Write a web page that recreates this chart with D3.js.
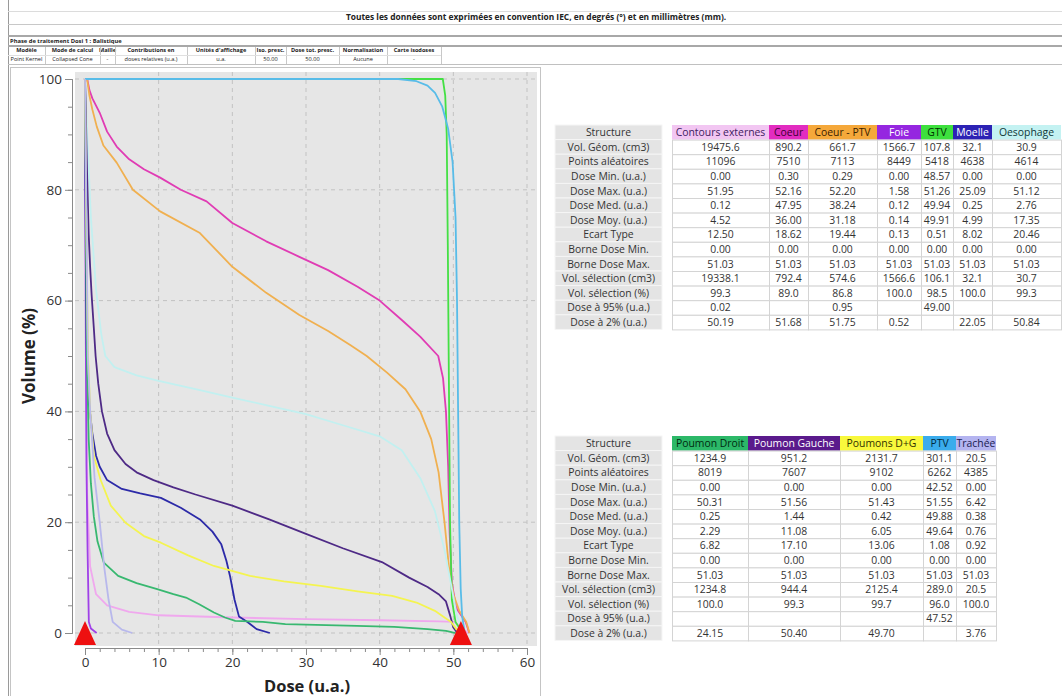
<!DOCTYPE html>
<html>
<head>
<meta charset="utf-8">
<script src="https://cdn.jsdelivr.net/npm/d3@7"></script>
<style>
  body { margin: 0; background: #fff; }
  text { font-family: "Open Sans", sans-serif; }
</style>
</head>
<body>
<svg id="c" width="1062" height="696"></svg>
<script>
// ---- data ----
const setupHeads = ["Modèle", "Mode de calcul", "Maille", "Contributions en", "Unités d'affichage", "Iso. presc.", "Dose tot. presc.", "Normalisation", "Carte isodoses"]
const setupVals = ["Point Kernel", "Collapsed Cone", "-", "doses relatives (u.a.)", "u.a.", "50.00", "50.00", "Aucune", "-"]

const statLabels = ["Vol. Géom. (cm3)", "Points aléatoires", "Dose Min. (u.a.)", "Dose Max. (u.a.)", "Dose Med. (u.a.)", "Dose Moy. (u.a.)", "Ecart Type", "Borne Dose Min.", "Borne Dose Max.", "Vol. sélection (cm3)", "Vol. sélection (%)", "Dose à 95% (u.a.)", "Dose à 2% (u.a.)"]

const contoursStats = ["19475.6", "11096", "0.00", "51.95", "0.12", "4.52", "12.50", "0.00", "51.03", "19338.1", "99.3", "0.02", "50.19"]
const coeurStats = ["890.2", "7510", "0.30", "52.16", "47.95", "36.00", "18.62", "0.00", "51.03", "792.4", "89.0", "", "51.68"]
const coeurPtvStats = ["661.7", "7113", "0.29", "52.20", "38.24", "31.18", "19.44", "0.00", "51.03", "574.6", "86.8", "0.95", "51.75"]
const foieStats = ["1566.7", "8449", "0.00", "1.58", "0.12", "0.14", "0.13", "0.00", "51.03", "1566.6", "100.0", "", "0.52"]
const gtvStats = ["107.8", "5418", "48.57", "51.26", "49.94", "49.91", "0.51", "0.00", "51.03", "106.1", "98.5", "49.00", ""]
const moelleStats = ["32.1", "4638", "0.00", "25.09", "0.25", "4.99", "8.02", "0.00", "51.03", "32.1", "100.0", "", "22.05"]
const oesoStats = ["30.9", "4614", "0.00", "51.12", "2.76", "17.35", "20.46", "0.00", "51.03", "30.7", "99.3", "", "50.84"]
const pdStats = ["1234.9", "8019", "0.00", "50.31", "0.25", "2.29", "6.82", "0.00", "51.03", "1234.8", "100.0", "", "24.15"]
const pgStats = ["951.2", "7607", "0.00", "51.56", "1.44", "11.08", "17.10", "0.00", "51.03", "944.4", "99.3", "", "50.40"]
const pdgStats = ["2131.7", "9102", "0.00", "51.43", "0.42", "6.05", "13.06", "0.00", "51.03", "2125.4", "99.7", "", "49.70"]
const ptvStats = ["301.1", "6262", "42.52", "51.55", "49.88", "49.64", "1.08", "0.00", "51.03", "289.0", "96.0", "47.52", ""]
const tracheeStats = ["20.5", "4385", "0.00", "6.42", "0.38", "0.76", "0.92", "0.00", "51.03", "20.5", "100.0", "", "3.76"]

// DVH curves, [dose (u.a.), volume (%)]
const contoursDvh = [[0,100],[0.02,95],[0.06,70],[0.12,50],[0.3,25],[0.7,12],[1.5,7],[3,5],[6,3.8],[10,3.2],[20,2.8],[30,2.5],[40,2.3],[48,2.1],[50.19,2],[51,1],[51.95,0]]
const coeurDvh = [[0,100],[0.3,100],[0.6,98],[1,96.5],[2,93.9],[3,90.5],[4.3,87.8],[6,85.5],[8,83.7],[10.2,82.2],[13,80],[16.5,77.9],[20,74],[24.6,70.7],[29.1,67.9],[33,65.5],[37,62.5],[40,60],[43,56.5],[45.5,53.5],[47.95,50],[48.6,46],[49,40],[49.3,30],[49.5,18],[49.8,9],[50.4,4.5],[51.68,2],[52.16,0]]
const coeurPtvDvh = [[0,100],[0.29,100],[0.6,97],[1,94.5],[1.6,91.4],[2.5,88],[4.3,84.9],[6.5,80],[10.2,76.1],[15.6,72.2],[20,66.1],[24.6,61.4],[29.1,57.4],[33,54.5],[36,52],[38.24,50],[41,47],[43.5,44],[45.5,40],[47,35],[48,29],[48.8,20],[49.4,12],[50,7],[50.8,4],[51.75,2],[52.2,0]]
const foieDvh = [[0,100],[0.05,90],[0.1,60],[0.12,50],[0.2,30],[0.35,15],[0.52,2],[0.8,0.8],[1.58,0]]
const gtvDvh = [[0,100],[48.57,100],[48.9,97],[49.1,90],[49.25,70],[49.4,45],[49.55,20],[49.8,6],[50.3,2],[51.26,0]]
const moelleDvh = [[0,100],[0.05,80],[0.15,60],[0.25,50],[0.5,42],[1,36],[1.5,32],[2,30],[3,27.6],[5,26],[7.5,25.2],[10.3,24.4],[13,22.6],[15.6,20.5],[17.3,18.3],[18.5,16],[19.2,13],[19.7,10.2],[20.3,6],[20.9,3],[22.05,2],[23.3,0.7],[25.09,0]]
const oesoDvh = [[0,100],[0.3,90],[0.8,75],[1.5,62],[2.2,54],[2.76,50],[4,48],[7,46.5],[10,45.5],[15,44],[20,42.5],[25,41],[30,39.5],[35,37.5],[40,35.5],[43,33],[45.5,28],[47.5,22],[48.8,15],[49.8,8],[50.5,3],[50.84,2],[51.12,0]]
const pdDvh = [[0,100],[0.1,85],[0.25,50],[0.5,35],[0.8,27],[1.2,21],[1.7,16.5],[2.56,12.7],[4.5,10.3],[7,9],[9.8,7.9],[12,7],[13.7,6.4],[15.5,5.2],[17.5,3.7],[19,2.8],[20.4,2.2],[24.15,2],[27.2,1.6],[36.9,1.3],[42,1.1],[46.5,0.7],[49,0.4],[49.9,0.1],[50.31,0]]
const pgDvh = [[0,100],[0.1,95],[0.2,88],[0.3,82],[0.5,72],[0.7,66],[0.9,61],[1.2,55],[1.44,50],[1.8,45],[2.3,40],[3,36],[4,33],[5.5,30.5],[7,29],[9.3,27.6],[12,26.3],[15,25],[20,23],[25,20.5],[30,17.9],[35,15.3],[40.3,12.8],[44,10],[46.5,8.3],[48,7],[49,5.7],[49.6,3],[50,1],[50.4,0.3],[51.56,0]]
const pdgDvh = [[0,100],[0.1,85],[0.25,65],[0.42,50],[0.7,40],[1.2,32],[2.1,27.7],[3.5,23],[5.5,19.9],[8,17.5],[10.3,16.3],[14,14],[17.5,12.1],[22.4,10.3],[27,9.3],[32,8.5],[37,7.5],[41.7,6.7],[45,5.5],[47.5,4],[48.9,2.7],[49.7,2],[50.4,0.7],[51.43,0]]
const ptvDvh = [[0,100],[42.52,100],[45,99.6],[46.5,98.8],[47.52,97.5],[48.5,95],[49.3,91],[49.9,85],[50.3,75],[50.5,60],[50.65,40],[50.8,20],[51.0,8],[51.2,3],[51.55,0]]
const tracheeDvh = [[0,100],[0.2,75],[0.38,50],[0.7,40],[1.3,28],[2,20],[2.6,12],[3.2,6],[3.76,2],[5,0.6],[6.42,0]]

const bornes = [0, 51.03]

const xTicks = [0, 10, 20, 30, 40, 50, 60]
const yTicks = [0, 20, 40, 60, 80, 100]

// structures: name, colour, header text colour, stats, curve
const table1 = [
  {name: "Contours externes", bg: "#f2c6f2", fg: "#402060", stats: contoursStats, dvh: contoursDvh, line: "#f0a8ee"},
  {name: "Coeur", bg: "#e22cc0", fg: "#3a0030", stats: coeurStats, dvh: coeurDvh, line: "#e03cb4"},
  {name: "Coeur - PTV", bg: "#f5a83a", fg: "#3a2000", stats: coeurPtvStats, dvh: coeurPtvDvh, line: "#f0b050"},
  {name: "Foie", bg: "#9526e0", fg: "#ffffff", stats: foieStats, dvh: foieDvh, line: "#a040e8"},
  {name: "GTV", bg: "#3ee03e", fg: "#003000", stats: gtvStats, dvh: gtvDvh, line: "#44e044"},
  {name: "Moelle", bg: "#2c22b4", fg: "#ffffff", stats: moelleStats, dvh: moelleDvh, line: "#2c2aa8"},
  {name: "Oesophage", bg: "#c4f2f2", fg: "#103838", stats: oesoStats, dvh: oesoDvh, line: "#c2f0f0"}
]
const table2 = [
  {name: "Poumon Droit", bg: "#2cb868", fg: "#002a10", stats: pdStats, dvh: pdDvh, line: "#38b870"},
  {name: "Poumon Gauche", bg: "#5a1a8c", fg: "#ffffff", stats: pgStats, dvh: pgDvh, line: "#4e2a86"},
  {name: "Poumons D+G", bg: "#f8f83c", fg: "#303000", stats: pdgStats, dvh: pdgDvh, line: "#f4f450"},
  {name: "PTV", bg: "#3aacec", fg: "#00283c", stats: ptvStats, dvh: ptvDvh, line: "#58bce8"},
  {name: "Trachée", bg: "#b4b4f0", fg: "#202050", stats: tracheeStats, dvh: tracheeDvh, line: "#b8b8ec"}
]

const svg = d3.select("#c")

// ---- page header ----
svg.append("line").attr("x1", 8.5).attr("x2", 8.5).attr("y1", 0).attr("y2", 696).attr("stroke", "#9a9a9a")
;[[11.5, "#dcdcdc", 1], [24.5, "#c8c8c8", 1], [36, "#a8a8a8", 2], [46, "#a8a8a8", 2], [64.5, "#c0c0c0", 1]].forEach(l => {
  svg.append("line").attr("x1", 8).attr("x2", 1062).attr("y1", l[0]).attr("y2", l[0])
    .attr("stroke", l[1]).attr("stroke-width", l[2])
})
svg.append("text").attr("x", 536).attr("y", 20).attr("text-anchor", "middle")
  .attr("font-size", 8.4).attr("font-weight", "bold").attr("fill", "#222")
  .text("Toutes les données sont exprimées en convention IEC, en degrés (°) et en millimètres (mm).")
svg.append("text").attr("x", 10).attr("y", 43).attr("font-size", 5.8).attr("font-weight", "bold").attr("fill", "#222")
  .text("Phase de traitement Dosi 1 : Balistique")

const setupEdges = [8, 45, 100, 115, 187, 255, 286, 339, 387, 441]
setupHeads.forEach((h, i) => {
  let cx = (setupEdges[i] + setupEdges[i + 1]) / 2
  svg.append("text").attr("x", cx).attr("y", 52).attr("text-anchor", "middle")
    .attr("font-size", 5.6).attr("font-weight", "bold").attr("fill", "#222").text(h)
  svg.append("text").attr("x", cx).attr("y", 60.5).attr("text-anchor", "middle")
    .attr("font-size", 5.6).attr("fill", "#222").text(setupVals[i])
})
setupEdges.slice(1).forEach(x => {
  svg.append("line").attr("x1", x + 0.5).attr("x2", x + 0.5).attr("y1", 47).attr("y2", 64)
    .attr("stroke", "#c8c8c8")
})
svg.append("line").attr("x1", 8).attr("x2", 441).attr("y1", 55.5).attr("y2", 55.5).attr("stroke", "#e0e0e0")

// ---- DVH chart ----
const x = d3.scaleLinear().domain([0, 60]).range([85, 527])
const y = d3.scaleLinear().domain([0, 100]).range([633, 79])
const plotBottom = 646

svg.append("rect").attr("x", 10.5).attr("y", 67.5).attr("width", 530).attr("height", 640)
  .attr("fill", "#fff").attr("stroke", "#c4c4c4")
svg.append("rect").attr("x", 75).attr("y", 72).attr("width", 462).attr("height", plotBottom - 72).attr("fill", "#e6e6e6")

const grid = svg.append("g").attr("stroke", "#c2c2c2").attr("stroke-dasharray", "4,4").attr("stroke-width", 1)
xTicks.slice(1).forEach(t => {
  grid.append("line").attr("x1", x(t)).attr("x2", x(t)).attr("y1", 72).attr("y2", plotBottom)
})
yTicks.forEach(t => {
  grid.append("line").attr("x1", 75).attr("x2", 537).attr("y1", y(t)).attr("y2", y(t))
})

const line = d3.line().x(d => x(d[0])).y(d => y(d[1]))
const curves = svg.append("g").attr("fill", "none").attr("stroke-width", 1.8).attr("stroke-linejoin", "round")
table1.concat(table2).forEach(s => {
  curves.append("path").datum(s.dvh).attr("d", line).attr("stroke", s.line)
})

// borne markers
svg.append("g").selectAll("path").data(bornes).enter().append("path")
  .attr("fill", "#ee1010")
  .attr("d", d => {
    let cx = x(d), cy = y(0)
    return `M${cx},${cy - 12}L${cx + 11},${cy + 12}L${cx - 11},${cy + 12}Z`
  })

// axes
const axisY = plotBottom + 2
const xg = svg.append("g").attr("transform", `translate(0,${axisY})`)
  .call(d3.axisBottom(x).tickValues(d3.range(0, 61, 2)).tickSize(4).tickFormat(""))
const xMajor = svg.append("g").attr("transform", `translate(0,${axisY})`)
  .call(d3.axisBottom(x).tickValues(xTicks).tickSize(7).tickPadding(2))
const yg = svg.append("g").attr("transform", "translate(72,0)")
  .call(d3.axisLeft(y).tickValues(d3.range(0, 101, 5)).tickSize(4).tickFormat(""))
const yMajor = svg.append("g").attr("transform", "translate(72,0)")
  .call(d3.axisLeft(y).tickValues(yTicks).tickSize(7).tickPadding(3))
;[xg, xMajor, yg, yMajor].forEach(g => {
  g.selectAll("path,line").attr("stroke", "#8a8a8a")
  g.selectAll("text").attr("font-family", "DejaVu Sans").attr("font-size", 13.5).attr("fill", "#333")
})

svg.append("text").attr("x", 307).attr("y", 692).attr("text-anchor", "middle")
  .attr("font-family", "DejaVu Sans").attr("font-size", 16.5).attr("font-weight", "bold").attr("fill", "#222")
  .text("Dose (u.a.)")
svg.append("text").attr("transform", "translate(35,356) rotate(-90)").attr("text-anchor", "middle")
  .attr("font-family", "DejaVu Sans").attr("font-size", 17).attr("font-weight", "bold").attr("fill", "#222")
  .text("Volume (%)")

// ---- stats tables ----
const rowH = 14.6
function drawTable(cols, widths, top) {
  let g = svg.append("g")
  let rows = ["Structure"].concat(statLabels)
  rows.forEach((r, i) => {
    let yy = top + i * rowH
    g.append("rect").attr("x", 555).attr("y", yy).attr("width", 107).attr("height", rowH)
      .attr("fill", "#e4e4e4").attr("stroke", "#f6f6f6")
    g.append("text").attr("x", 608.5).attr("y", yy + rowH / 2 + 3.8).attr("text-anchor", "middle")
      .attr("font-size", 10.4).attr("fill", "#333").text(r)
  })
  let left = 672
  cols.forEach((c, j) => {
    let w = widths[j]
    g.append("rect").attr("x", left).attr("y", top).attr("width", w).attr("height", rowH)
      .attr("fill", c.bg)
    g.append("text").attr("x", left + w / 2).attr("y", top + rowH / 2 + 3.8).attr("text-anchor", "middle")
      .attr("font-size", 10.4).attr("fill", c.fg).text(c.name)
    c.stats.forEach((v, i) => {
      let yy = top + (i + 1) * rowH
      g.append("rect").attr("x", left + 0.5).attr("y", yy + 0.5).attr("width", w).attr("height", rowH)
        .attr("fill", "#fff").attr("stroke", "#d4d4d4")
      g.append("text").attr("x", left + w / 2).attr("y", yy + rowH / 2 + 3.8).attr("text-anchor", "middle")
        .attr("font-size", 10.4).attr("fill", "#333").text(v)
    })
    left += w
  })
}
drawTable(table1, [97, 39, 69, 44, 32, 39, 69], 125)
drawTable(table2, [76, 92, 83, 33, 40], 436)
</script>
</body>
</html>
